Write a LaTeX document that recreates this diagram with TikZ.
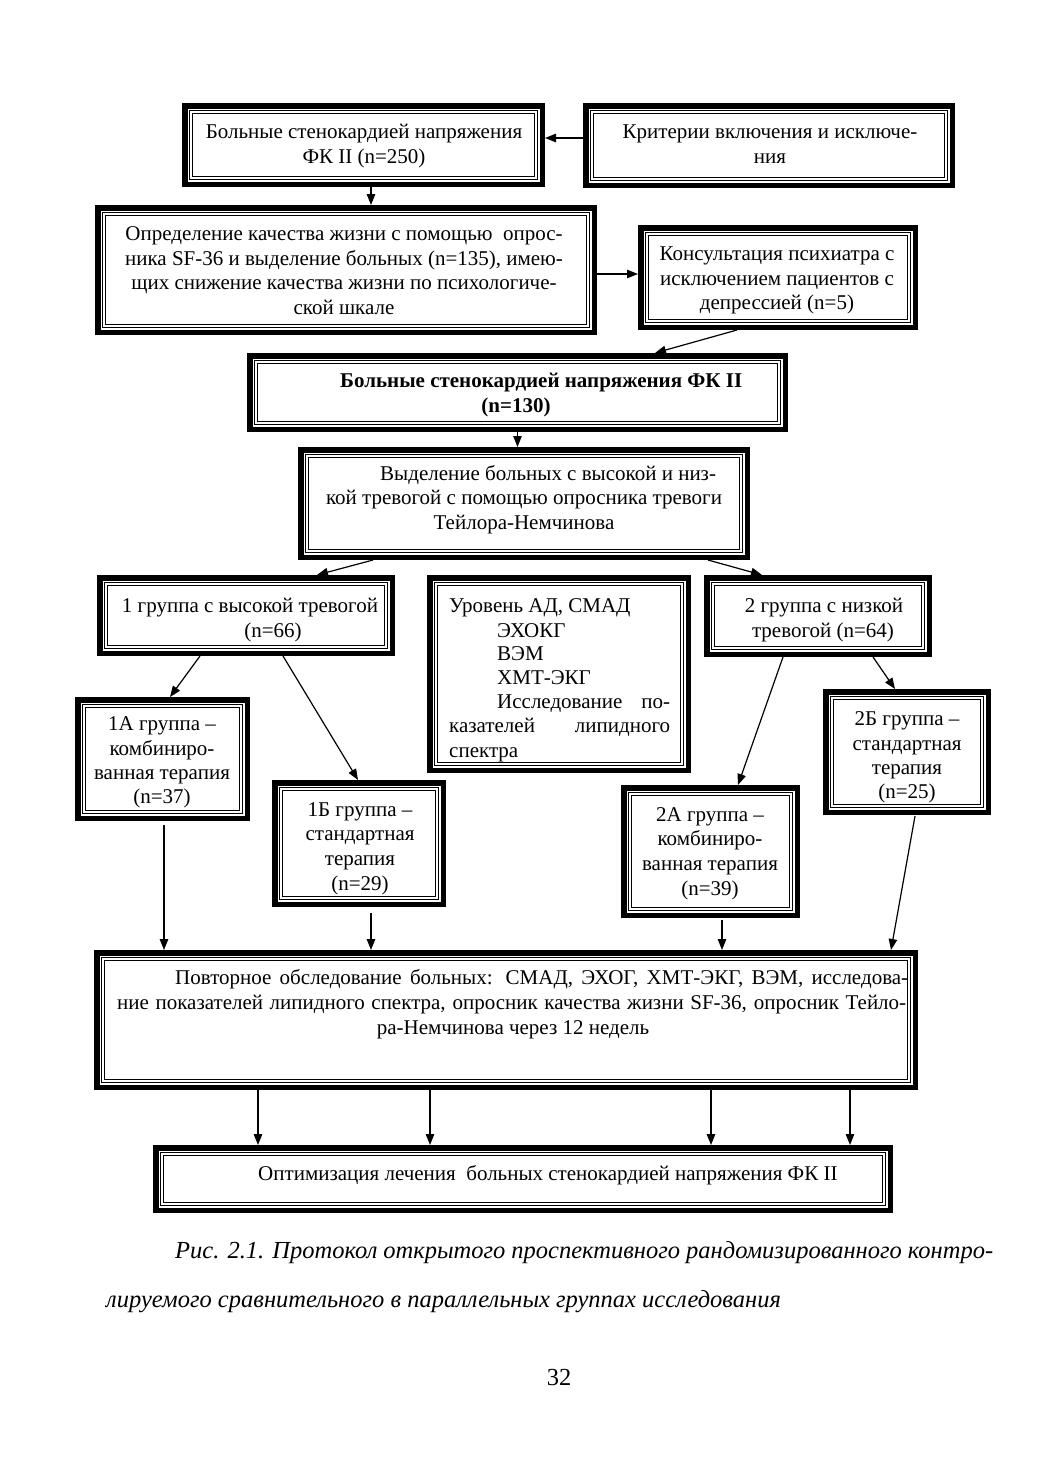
\documentclass[tikz,border=0pt]{standalone}
\usepackage{fontspec}
\setmainfont{Liberation Serif}
\usetikzlibrary{arrows.meta}
\newcommand\fs{\fontsize{21}{25}\selectfont}
\newcommand\capfs{\fontsize{24.5}{30}\selectfont}
\newcommand\mkbox[5]{%
  \node[frame, minimum width={#4-#2-5.5}, minimum height={#5-#3-5.5}] (#1) at ({(#2+#4)/2},{(#3+#5)/2}) {};
  \draw[innerframe] ([shift={(9,9)}]#1.north west) rectangle ([shift={(-9,-9)}]#1.south east);}
\tikzset{
  frame/.style={draw, rectangle, line width=5.5pt, outer sep=2.75pt, inner sep=0pt},
  innerframe/.style={double, line width=1pt, double distance=1.4pt},
  txt/.style={font=\fs, inner sep=0pt, anchor=base},
  txtw/.style={font=\fs, inner sep=0pt, anchor=base west},
  arr/.style={-{Triangle[length=11pt,width=8.5pt]}, line width=1.2pt}
}
\begin{document}
\begin{tikzpicture}[x=1pt,y=-1pt]
\path[fill=white,use as bounding box] (0,0) rectangle (1041,1472);
% boxes
\mkbox{b1}{182}{103}{545}{187}
\mkbox{b2}{583}{103}{955}{188}
\mkbox{b3}{95}{205}{597}{335}
\mkbox{b4}{638}{225}{918}{330}
\mkbox{b5}{247}{353}{788}{432}
\mkbox{b6}{298}{447}{750}{560}
\mkbox{b7}{97}{575}{395}{656}
\mkbox{b8}{427}{575}{691}{773}
\mkbox{b9}{704}{575}{932}{657}
\mkbox{b10}{75}{697}{250}{821}
\mkbox{b11}{272}{780}{446}{907}
\mkbox{b12}{621}{785}{800}{918}
\mkbox{b13}{823}{689}{991}{815}
\mkbox{b14}{94}{950}{918}{1090}
\mkbox{b15}{153}{1145}{893}{1213}
% texts
\node[txt] (t1a) at (364,138) {Больные стенокардией напряжения};
\node[txt] (t1b) at (364,163) {ФК II (n=250)};
\node[txt] (t2a) at (770,138) {Критерии включения и исключе-};
\node[txt] (t2b) at (770,163) {ния};
\node[txt] (t3a) at (344,240) {Определение качества жизни с помощью\ \ опрос-};
\node[txt] (t3b) at (344,265) {ника SF-36 и выделение больных (n=135), имею-};
\node[txt] (t3c) at (344,289) {щих снижение качества жизни по психологиче-};
\node[txt] (t3d) at (344,314) {ской шкале};
\node[txt] (t4a) at (777,260) {Консультация психиатра с};
\node[txt] (t4b) at (777,285) {исключением пациентов с};
\node[txt] (t4c) at (777,309) {депрессией (n=5)};
\node[txtw] (t5a) at (340,387) {\bfseries Больные стенокардией напряжения ФК II};
\node[txt] (t5b) at (516,412) {\bfseries (n=130)};
\node[txtw] (t6a) at (380,480) {Выделение больных с высокой и низ-};
\node[txt] (t6b) at (524,504) {кой тревогой с помощью опросника тревоги};
\node[txt] (t6c) at (524,529) {Тейлора-Немчинова};
\node[txt] (t7a) at (250,612) {1 группа с высокой тревогой};
\node[txt] (t7b) at (273,637) {(n=66)};
\node[txtw] (t8a) at (449,612) {Уровень АД, СМАД};
\node[txtw] (t8b) at (497,637) {ЭХОКГ};
\node[txtw] (t8c) at (497,660) {ВЭМ};
\node[txtw] (t8d) at (497,684) {ХМТ-ЭКГ};
\node[txtw] (t8e) at (497,708) {\makebox[173pt][s]{Исследование по-}};
\node[txtw] (t8f) at (449,732) {\makebox[221pt][s]{казателей липидного}};
\node[txtw] (t8g) at (449,757) {спектра};
\node[txt] (t9a) at (824,612) {2 группа с низкой};
\node[txt] (t9b) at (823,637) {тревогой (n=64)};
\node[txt] (t10a) at (162,730) {1А группа –};
\node[txt] (t10b) at (162,755) {комбиниро-};
\node[txt] (t10c) at (162,779) {ванная терапия};
\node[txt] (t10d) at (162,803) {(n=37)};
\node[txt] (t11a) at (360,816) {1Б группа –};
\node[txt] (t11b) at (360,840) {стандартная};
\node[txt] (t11c) at (360,865) {терапия};
\node[txt] (t11d) at (360,890) {(n=29)};
\node[txt] (t12a) at (710,821) {2А группа –};
\node[txt] (t12b) at (710,845) {комбиниро-};
\node[txt] (t12c) at (710,870) {ванная терапия};
\node[txt] (t12d) at (710,895) {(n=39)};
\node[txt] (t13a) at (907,725) {2Б группа –};
\node[txt] (t13b) at (907,750) {стандартная};
\node[txt] (t13c) at (907,774) {терапия};
\node[txt] (t13d) at (907,798) {(n=25)};
\node[txtw] (t14a) at (175,984) {\makebox[733pt][s]{Повторное обследование больных: СМАД, ЭХОГ, ХМТ-ЭКГ, ВЭМ, исследова-}};
\node[txtw] (t14b) at (117,1009) {\makebox[789pt][s]{ние показателей липидного спектра, опросник качества жизни SF-36, опросник Тейло-}};
\node[txt] (t14c) at (513,1034) {ра-Немчинова через 12 недель};
\node[txtw] (t15) at (258,1180) {Оптимизация лечения\ \ больных стенокардией напряжения ФК II};
% caption
\node[font=\capfs\itshape, inner sep=0pt, anchor=base west] (cap1) at (175,1258) {\makebox[818pt][s]{Рис. 2.1. Протокол открытого проспективного рандомизированного контро-}};
\node[font=\capfs\itshape, inner sep=0pt, anchor=base west] (cap2) at (106,1307) {лируемого сравнительного в параллельных группах исследования};
\node[font=\capfs, inner sep=0pt, anchor=base] (page) at (559,1385) {32};
% arrows
\draw[arr] ([shift={(0,-7.5)}]b2.west) -- ([shift={(0,-7)}]b1.east);
\draw[arr] ([shift={(7.5,0)}]b1.south) -- ([shift={(25,0)}]b3.north);
\draw[arr] ([shift={(0,4)}]b3.east) -- ([shift={(0,-3.5)}]b4.west);
\draw[arr] ([shift={(-41,0)}]b4.south) -- ([shift={(137.5,0)}]b5.north);
\draw[arr] (b5.south) -- ([shift={(-6.5,0)}]b6.north);
\draw[arr] ([shift={(-151,0)}]b6.south) -- ([shift={(71,0)}]b7.north);
\draw[arr] ([shift={(184,0)}]b6.south) -- ([shift={(-56,0)}]b9.north);
\draw[arr] ([shift={(-46,0)}]b7.south) -- ([shift={(7.5,0)}]b10.north);
\draw[arr] ([shift={(37,0)}]b7.south) -- ([shift={(-1,0)}]b11.north);
\draw[arr] ([shift={(-35,0)}]b9.south) -- ([shift={(27.5,0)}]b12.north);
\draw[arr] ([shift={(55,0)}]b9.south) -- ([shift={(-12,0)}]b13.north);
\draw[arr] ([shift={(1.5,4)}]b10.south) -- ([shift={(-342,0)}]b14.north);
\draw[arr] ([shift={(12,6)}]b11.south) -- ([shift={(-135,0)}]b14.north);
\draw[arr] ([shift={(11.5,2)}]b12.south) -- ([shift={(216,0)}]b14.north);
\draw[arr] ([shift={(8,1)}]b13.south) -- ([shift={(385,0)}]b14.north);
\draw[arr] ([shift={(-248,0)}]b14.south) -- ([shift={(-265,0)}]b15.north);
\draw[arr] ([shift={(-76,0)}]b14.south) -- ([shift={(-93,0)}]b15.north);
\draw[arr] ([shift={(205,0)}]b14.south) -- ([shift={(188,0)}]b15.north);
\draw[arr] ([shift={(344,0)}]b14.south) -- ([shift={(327,0)}]b15.north);
\end{tikzpicture}
\end{document}
